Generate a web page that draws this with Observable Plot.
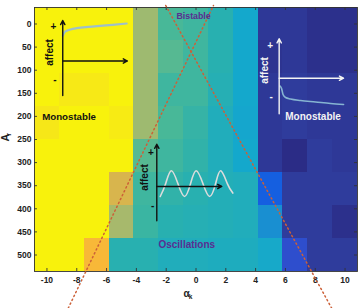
<!DOCTYPE html>
<html>
<head>
<meta charset="utf-8">
<script src="https://cdn.jsdelivr.net/npm/d3@7"></script>
<script src="https://cdn.jsdelivr.net/npm/@observablehq/plot@0.6"></script>
<style>
  html, body { margin: 0; padding: 0; background: #fff; }
</style>
</head>
<body>
<div id="chart"></div>
<script>
// ---- data ----
const alphaK = [-10, -8.33, -6.67, -5, -3.33, -1.67, 0, 1.67, 3.33, 5, 6.67, 8.33, 10];
const Ar = [0, 71.4, 142.9, 214.3, 285.7, 357.1, 428.6, 500];
const row0 = [1.00, 1.00, 1.00, 1.00, 0.66, 0.52, 0.50, 0.45, 0.37, 0.03, 0.03, 0.01, 0.01];
const row1 = [1.00, 1.00, 1.00, 1.00, 0.66, 0.54, 0.50, 0.45, 0.37, 0.02, 0.03, 0.01, 0.01];
const row2 = [1.00, 0.975, 0.975, 1.00, 0.66, 0.50, 0.50, 0.44, 0.37, 0.03, 0.04, 0.03, 0.03];
const row3 = [0.97, 1.00, 1.00, 0.98, 0.66, 0.52, 0.48, 0.42, 0.36, 0.03, 0.04, 0.03, 0.03];
const row4 = [1.00, 1.00, 1.00, 1.00, 0.54, 0.50, 0.47, 0.42, 0.37, 0.03, 0.00, 0.04, 0.03];
const row5 = [1.00, 1.00, 1.00, 0.80, 0.50, 0.47, 0.45, 0.43, 0.42, 0.14, 0.04, 0.04, 0.04];
const row6 = [1.00, 1.00, 1.00, 0.68, 0.49, 0.45, 0.44, 0.43, 0.42, 0.27, 0.04, 0.04, 0.01];
const row7 = [1.00, 1.00, 0.88, 0.45, 0.45, 0.42, 0.42, 0.41, 0.41, 0.38, 0.09, 0.04, 0.04];
const rows = [row0, row1, row2, row3, row4, row5, row6, row7];

const xTicks = [-10, -8, -6, -4, -2, 0, 2, 4, 6, 8, 10];
const yTicks = [0, 50, 100, 150, 200, 250, 300, 350, 400, 450, 500];

// boundary lines (dotted)
const boundaryA = [{ak: -8.57, ar: 615}, {ak: 1.17, ar: -40}];
const boundaryB = [{ak: -2.03, ar: -40}, {ak: 9.10, ar: 615}];

// inset sketches (in chart units)
const inset1Curve = [
  {ak: -8.94, ar: 25.5}, {ak: -8.83, ar: 18.4}, {ak: -8.67, ar: 14.7}, {ak: -8.42, ar: 11.9},
  {ak: -8.0, ar: 9.1}, {ak: -7.21, ar: 6.1}, {ak: -6.43, ar: 3.9}, {ak: -5.6, ar: 1.7}, {ak: -4.65, ar: -1.1}
];
const inset2Wave = [
  {ak: -2.40, ar: 373.4}, {ak: -2.05, ar: 347}, {ak: -1.66, ar: 317.7}, {ak: -1.21, ar: 346},
  {ak: -0.77, ar: 373.4}, {ak: -0.37, ar: 346}, {ak: 0.01, ar: 317.7}, {ak: 0.47, ar: 346},
  {ak: 0.91, ar: 373.4}, {ak: 1.31, ar: 346}, {ak: 1.66, ar: 317.7}, {ak: 2.11, ar: 346},
  {ak: 2.47, ar: 366}
];
const inset3Curve = [
  {ak: 5.64, ar: 134.2}, {ak: 5.74, ar: 139.6}, {ak: 5.84, ar: 152.6}, {ak: 6.01, ar: 159.1},
  {ak: 6.34, ar: 162.3}, {ak: 7.01, ar: 165.6}, {ak: 8.02, ar: 168.8}, {ak: 9.03, ar: 172.1},
  {ak: 9.9, ar: 174.2}
];
const insetAxes = [
  {x1: -8.94, y1: 154.8, x2: -8.94, y2: -7.6, c: "#111"},
  {x1: -8.94, y1: 80.1, x2: -4.6, y2: 80.1, c: "#111"},
  {x1: -2.63, y1: 425.9, x2: -2.63, y2: 260.2, c: "#111"},
  {x1: -2.63, y1: 351.7, x2: 1.73, y2: 351.7, c: "#111"},
  {x1: 5.58, y1: 194.4, x2: 5.58, y2: 32, c: "#f4f4f4"},
  {x1: 5.58, y1: 117.3, x2: 9.9, y2: 117.3, c: "#f4f4f4"}
];
const insetSigns = [
  {t: "+", ak: -9.56, ar: 5.4, c: "#111"}, {t: "-", ak: -9.46, ar: 120, c: "#111"},
  {t: "+", ak: -3.03, ar: 279.7, c: "#111"}, {t: "-", ak: -2.9, ar: 392.9, c: "#111"},
  {t: "+", ak: 4.98, ar: 46.5, c: "#f4f4f4"}, {t: "-", ak: 5.05, ar: 158.4, c: "#f4f4f4"}
];
const insetAffect = [
  {ak: -9.83, ar: 61.7, c: "#111"},
  {ak: -3.42, ar: 332.3, c: "#111"},
  {ak: 4.63, ar: 100.6, c: "#f4f4f4"}
];
const regionLabels = [
  {t: "Monostable", ak: -10.32, ar: 200.2, c: "#111", s: 9.7},
  {t: "Bistable", ak: -1.31, ar: -16.2, c: "#5a2d91", s: 8.8},
  {t: "Oscillations", ak: -2.52, ar: 477.3, c: "#5a2d91", s: 10},
  {t: "Monostable", ak: 5.99, ar: 201.3, c: "#f4f4f4", s: 10}
];

// ---- build cells ----
const halfX = (alphaK[1] - alphaK[0]) / 2;
const halfY = (Ar[1] - Ar[0]) / 2;
const cells = [];
rows.forEach((r, i) => r.forEach((v, j) => cells.push({ak: alphaK[j], ar: Ar[i], v})));
const xDom = [alphaK[0] - halfX, alphaK[alphaK.length - 1] + halfX];
const yDom = [Ar[0] - halfY, Ar[Ar.length - 1] + halfY];

// colormap (parula-like)
const cmapDomain = [0, 0.05, 0.10, 0.15, 0.25, 0.37, 0.45, 0.52, 0.62, 0.70, 0.82, 0.88, 0.95, 1.0];
const cmapRange = ["#2b2c86", "#3040a2", "#2d52d8", "#0f62e2", "#1a8ad2", "#14a8cc", "#28b0b0",
  "#48b898", "#8cbc78", "#b0b868", "#e0b448", "#f8b838", "#f5e020", "#f8f20c"];

const tickLen = 6.5; // in A_r units (~3px)
const tickLenX = 0.2;

const chart = Plot.plot({
  width: 359,
  height: 308,
  marginLeft: 34,
  marginRight: 2,
  marginTop: 7,
  marginBottom: 37,
  style: {fontFamily: "'Liberation Sans', Arial, sans-serif", fontWeight: "bold", fontSize: "8.5px", color: "#222", background: "#fff"},
  x: {domain: xDom},
  y: {domain: yDom, reverse: true},
  color: {type: "linear", domain: cmapDomain, range: cmapRange, interpolate: "rgb"},
  marks: [
    Plot.rect(cells, {
      x1: d => d.ak - halfX, x2: d => d.ak + halfX,
      y1: d => d.ar - halfY, y2: d => d.ar + halfY,
      fill: "v", inset: 0, shapeRendering: "crispEdges"
    }),
    Plot.frame({stroke: "#333", strokeWidth: 0.9}),
    Plot.ruleX(xTicks, {x: d => d, y1: yDom[1], y2: yDom[1] - tickLen, stroke: "#333", strokeWidth: 0.9}),
    Plot.ruleX(xTicks, {x: d => d, y1: yDom[0], y2: yDom[0] + tickLen, stroke: "#333", strokeWidth: 0.9}),
    Plot.ruleY(yTicks, {y: d => d, x1: xDom[0], x2: xDom[0] + tickLenX, stroke: "#333", strokeWidth: 0.9}),
    Plot.ruleY(yTicks, {y: d => d, x1: xDom[1], x2: xDom[1] - tickLenX, stroke: "#333", strokeWidth: 0.9}),
    Plot.axisX({ticks: xTicks, tickSize: 0, tickPadding: 5, tickFormat: d => String(d), label: null, fontWeight: "bold"}),
    Plot.axisY({ticks: yTicks, tickSize: 0, tickPadding: 3, tickFormat: d => String(d), label: null, fontWeight: "bold"}),
    // dotted boundary lines
    Plot.line(boundaryA, {x: "ak", y: "ar", stroke: "#cc6038", strokeWidth: 1.5, strokeDasharray: "1.3,3"}),
    Plot.line(boundaryB, {x: "ak", y: "ar", stroke: "#cc6038", strokeWidth: 1.5, strokeDasharray: "1.3,3"}),
    // inset sketches
    Plot.line(inset1Curve, {x: "ak", y: "ar", stroke: "#9ec0c8", strokeWidth: 2.2, curve: "monotone-x"}),
    Plot.line(inset2Wave, {x: "ak", y: "ar", stroke: "#dcdcdc", strokeWidth: 1.6, curve: "natural"}),
    Plot.line(inset3Curve, {x: "ak", y: "ar", stroke: "#86b4d2", strokeWidth: 1.6, curve: "monotone-x"}),
    Plot.arrow(insetAxes, {x1: "x1", y1: "y1", x2: "x2", y2: "y2", stroke: "c", strokeWidth: 1.4, headLength: 5, headAngle: 55}),
    Plot.text(insetSigns, {x: "ak", y: "ar", text: "t", fill: "c", fontSize: 10, fontWeight: "bold"}),
    Plot.text(insetAffect, {x: "ak", y: "ar", text: () => "affect", fill: "c", fontSize: 10, fontWeight: "bold", rotate: -90}),
    Plot.text(regionLabels, {x: "ak", y: "ar", text: "t", fill: "c", fontSize: "s", textAnchor: "start", fontWeight: "bold"}),
    // axis titles
    Plot.text(["A"], {frameAnchor: "left", dx: -28.5, dy: 2, rotate: -90, fontSize: 10.5, fontWeight: "bold", fill: "#222"}),
    Plot.text(["r"], {frameAnchor: "left", dx: -26, dy: -3.8, rotate: -90, fontSize: 7, fontWeight: "bold", fill: "#222"}),
    Plot.text(["α"], {frameAnchor: "bottom", dx: -9.5, dy: 25.5, fontSize: 10, fontWeight: "bold", fill: "#222"}),
    Plot.text(["k"], {frameAnchor: "bottom", dx: -5.5, dy: 27.8, fontSize: 6.5, fontWeight: "bold", fill: "#222"})
  ]
});
document.getElementById("chart").appendChild(chart);
</script>
</body>
</html>
